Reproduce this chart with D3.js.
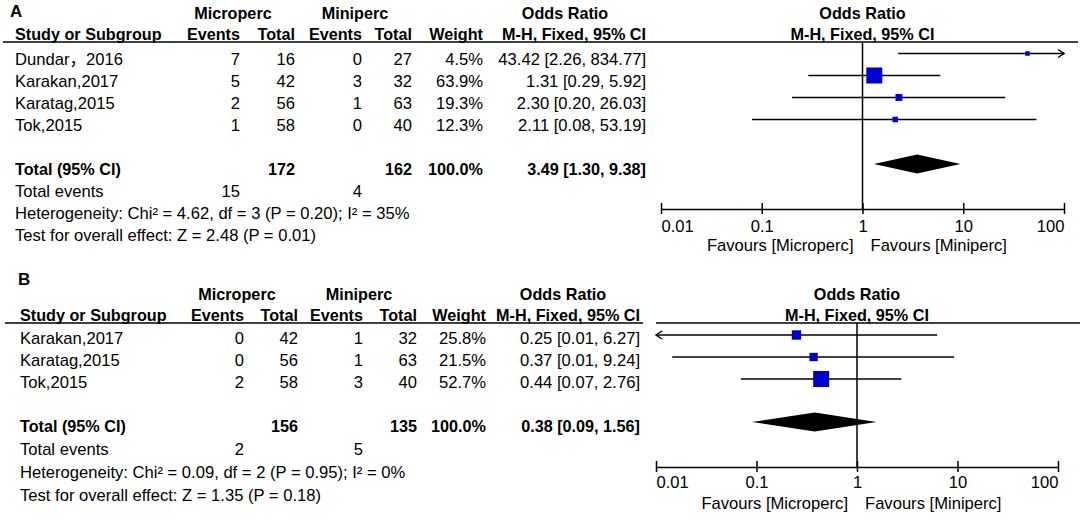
<!DOCTYPE html>
<html>
<head>
<meta charset="utf-8">
<script src="https://cdn.jsdelivr.net/npm/d3@7"></script>
<style>
  body { margin: 0; background: #fff; }
  svg text { font-family: "Liberation Sans", Arial, "Noto Sans CJK SC", sans-serif; font-size: 16.6px; fill: #000; }
  svg text.b { font-weight: bold; font-size: 16.2px; }
</style>
</head>
<body>
<svg id="chart" width="1084" height="518"></svg>
<script>
// ---- data, panel A
const studiesA = ["Dundar，2016", "Karakan,2017", "Karatag,2015", "Tok,2015"];
const microEventsA = [7, 5, 2, 1];
const microTotalA = [16, 42, 56, 58];
const miniEventsA = [0, 3, 1, 0];
const miniTotalA = [27, 32, 63, 40];
const weightA = [4.5, 63.9, 19.3, 12.3];
const orA = [43.42, 1.31, 2.30, 2.11];
const loA = [2.26, 0.29, 0.20, 0.08];
const hiA = [834.77, 5.92, 26.03, 53.19];
const totalsA = [172, 162];
const totalEventsA = [15, 4];
const pooledA = [3.49, 1.30, 9.38];
const hetA = "Heterogeneity: Chi² = 4.62, df = 3 (P = 0.20); I² = 35%";
const testA = "Test for overall effect: Z = 2.48 (P = 0.01)";

// ---- data, panel B
const studiesB = ["Karakan,2017", "Karatag,2015", "Tok,2015"];
const microEventsB = [0, 0, 2];
const microTotalB = [42, 56, 58];
const miniEventsB = [1, 1, 3];
const miniTotalB = [32, 63, 40];
const weightB = [25.8, 21.5, 52.7];
const orB = [0.25, 0.37, 0.44];
const loB = [0.008, 0.0145, 0.07];
const hiB = [6.27, 9.24, 2.76];
const totalsB = [156, 135];
const totalEventsB = [2, 5];
const pooledB = [0.38, 0.09, 1.56];
const hetB = "Heterogeneity: Chi² = 0.09, df = 2 (P = 0.95); I² = 0%";
const testB = "Test for overall effect: Z = 1.35 (P = 0.18)";

// ---- axis
const tickVals = [0.01, 0.1, 1, 10, 100];
const tickLabels = ["0.01", "0.1", "1", "10", "100"];

const f2 = d3.format(".2f");
const svg = d3.select("#chart");

function txt(g, x, y, s, anchor, bold) {
  return g.append("text")
    .attr("x", x).attr("y", y)
    .attr("text-anchor", anchor || "start")
    .attr("class", bold ? "b" : null)
    .text(s);
}

function drawPanel(p) {
  const g = svg.append("g");
  const c = p.cols;

  // letter + headers
  g.append("text").attr("class", "b").attr("x", p.letter[0]).attr("y", p.letter[1])
    .style("font-size", "17px").text(p.name);
  txt(g, p.groupX[0], p.hy, "Microperc", "middle", true);
  txt(g, p.groupX[1], p.hy, "Miniperc", "middle", true);
  txt(g, p.groupX[2], p.hy, "Odds Ratio", "middle", true);
  txt(g, c[0], p.sy, "Study or Subgroup", "start", true);
  txt(g, c[1], p.sy, "Events", "end", true);
  txt(g, c[2], p.sy, "Total", "end", true);
  txt(g, c[3], p.sy, "Events", "end", true);
  txt(g, c[4], p.sy, "Total", "end", true);
  txt(g, c[5], p.sy, "Weight", "end", true);
  txt(g, c[6], p.sy, "M-H, Fixed, 95% CI", "end", true);

  const x = d3.scaleLog().domain([tickVals[0], tickVals[tickVals.length - 1]]).range(p.xRange);
  const dom = x.domain();
  const x1 = x(1);
  txt(g, x1, p.hy, "Odds Ratio", "middle", true);
  txt(g, x1, p.sy, "M-H, Fixed, 95% CI", "middle", true);

  p.rule.forEach(r => {
    g.append("line").attr("x1", r[0]).attr("x2", r[1]).attr("y1", p.ly).attr("y2", p.ly)
      .attr("stroke", "#000").attr("stroke-width", 1.5);
  });

  // study rows
  const side = d3.scaleLinear().domain([0, d3.max(p.weight)]).range([3, 16]);
  p.studies.forEach((s, i) => {
    const ty = p.rowY0 + i * 22;
    txt(g, c[0], ty, s);
    txt(g, c[1], ty, p.me[i], "end");
    txt(g, c[2], ty, p.mt[i], "end");
    txt(g, c[3], ty, p.ne[i], "end");
    txt(g, c[4], ty, p.nt[i], "end");
    txt(g, c[5], ty, p.weight[i].toFixed(1) + "%", "end");
    txt(g, c[6], ty, `${f2(p.or[i])} [${f2(p.lo[i])}, ${f2(p.hi[i])}]`, "end");

    const py = ty + p.plotShift;
    const lo = Math.max(p.lo[i], dom[0]), hi = Math.min(p.hi[i], dom[1]);
    g.append("line").attr("x1", x(lo)).attr("x2", x(hi)).attr("y1", py).attr("y2", py)
      .attr("stroke", "#000").attr("stroke-width", 1.5);
    if (p.hi[i] > dom[1]) {
      const t = x(dom[1]);
      g.append("path").attr("d", `M${t - 6},${py - 4}L${t},${py}L${t - 6},${py + 4}`)
        .attr("fill", "none").attr("stroke", "#000").attr("stroke-width", 1.5);
    }
    if (p.lo[i] < dom[0]) {
      const t = x(dom[0]);
      g.append("path").attr("d", `M${t + 6},${py - 4}L${t},${py}L${t + 6},${py + 4}`)
        .attr("fill", "none").attr("stroke", "#000").attr("stroke-width", 1.5);
    }
    const sz = Math.max(4.5, side(p.weight[i]));
    g.append("rect").attr("x", x(p.or[i]) - sz / 2).attr("y", py - sz / 2)
      .attr("width", sz).attr("height", sz).attr("fill", "#0000cc");
  });

  // total rows
  txt(g, c[0], p.totalY, "Total (95% CI)", "start", true);
  txt(g, c[2], p.totalY, p.totals[0], "end", true);
  txt(g, c[4], p.totalY, p.totals[1], "end", true);
  txt(g, c[5], p.totalY, "100.0%", "end", true);
  txt(g, c[6], p.totalY, `${f2(p.pooled[0])} [${f2(p.pooled[1])}, ${f2(p.pooled[2])}]`, "end", true);
  txt(g, c[0], p.evY, "Total events");
  txt(g, c[1], p.evY, p.events[0], "end");
  txt(g, c[3], p.evY, p.events[1], "end");
  txt(g, c[0], p.hetY, p.het);
  txt(g, c[0], p.testY, p.test);

  // pooled diamond
  const dy = p.diamondY;
  g.append("path")
    .attr("d", `M${x(p.pooled[1])},${dy}L${x(p.pooled[0])},${dy - 9.5}L${x(p.pooled[2])},${dy}L${x(p.pooled[0])},${dy + 9.5}Z`)
    .attr("fill", "#000");

  // line of no effect
  g.append("line").attr("x1", x1).attr("x2", x1).attr("y1", p.ly).attr("y2", p.axisY)
    .attr("stroke", "#000").attr("stroke-width", 1.5);

  // axis
  const ag = g.append("g").attr("transform", `translate(0,${p.axisY})`)
    .call(d3.axisBottom(x).tickValues(tickVals).tickFormat((d, i) => tickLabels[i])
      .tickSize(5).tickSizeOuter(0));
  ag.select(".domain").attr("stroke-width", 1.5);
  ag.selectAll(".tick line").attr("y1", -6).attr("y2", 5).attr("stroke-width", 1.5);
  ag.selectAll(".tick text")
    .attr("y", p.tickY - p.axisY).attr("dy", null)
    .attr("text-anchor", (d, i) => i === 0 ? "start" : (i === tickVals.length - 1 ? "end" : "middle"));

  txt(g, x1 - 9, p.favY, "Favours [Microperc]", "end");
  txt(g, x1 + 8, p.favY, "Favours [Miniperc]", "start");
}

drawPanel({
  name: "A", letter: [10, 17],
  studies: studiesA, me: microEventsA, mt: microTotalA, ne: miniEventsA, nt: miniTotalA,
  weight: weightA, or: orA, lo: loA, hi: hiA,
  totals: totalsA, events: totalEventsA, pooled: pooledA, het: hetA, test: testA,
  cols: [15, 240, 295, 362, 412, 483, 646], groupX: [233, 355, 565],
  xRange: [661, 1064], rule: [[3, 1078]],
  hy: 18.5, sy: 39.5, ly: 42, rowY0: 65, plotShift: -11.5,
  totalY: 174.5, diamondY: 164, evY: 197, hetY: 219, testY: 241,
  axisY: 209, tickY: 232, favY: 251
});

drawPanel({
  name: "B", letter: [18, 285],
  studies: studiesB, me: microEventsB, mt: microTotalB, ne: miniEventsB, nt: miniTotalB,
  weight: weightB, or: orB, lo: loB, hi: hiB,
  totals: totalsB, events: totalEventsB, pooled: pooledB, het: hetB, test: testB,
  cols: [20, 244, 298, 363, 417, 486, 640], groupX: [237, 359, 563],
  xRange: [656, 1058], rule: [[5, 643], [656, 1080]],
  hy: 299.5, sy: 320.5, ly: 323, rowY0: 344, plotShift: -9,
  totalY: 432, diamondY: 422, evY: 455, hetY: 478, testY: 501,
  axisY: 467, tickY: 488, favY: 509
});
</script>
</body>
</html>
